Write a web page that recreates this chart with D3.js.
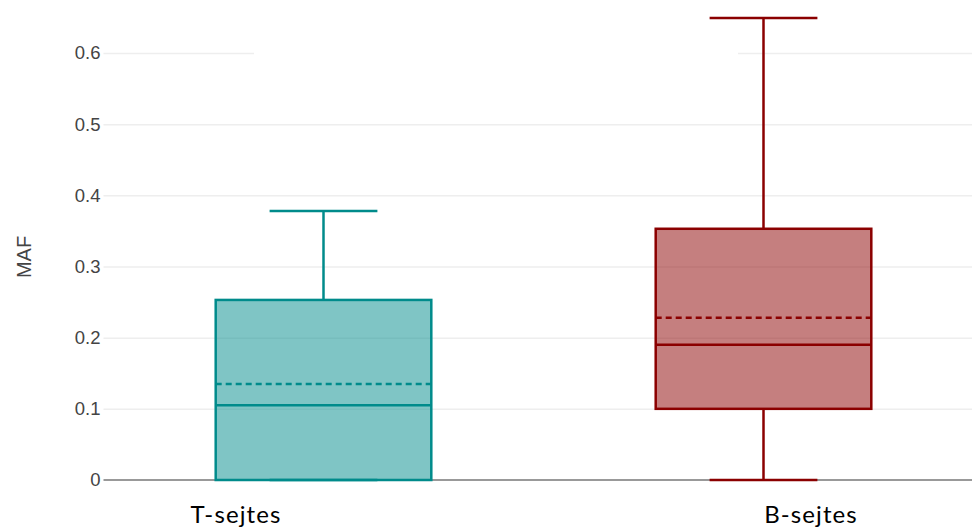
<!DOCTYPE html>
<html>
<head>
<meta charset="utf-8">
<script src="https://cdn.jsdelivr.net/npm/d3@7"></script>
<style>
  html, body { margin: 0; padding: 0; background: #fff; }
  svg { display: block; }
</style>
</head>
<body>
<svg id="chart" width="972" height="527"></svg>
<script>
// Box-plot statistics for mutant allele fraction per cell group
const categories = ["T-sejtes", "B-sejtes"];
const lowerWhisker = [0, 0];
const q1 = [0, 0.10];
const median = [0.105, 0.19];
const mean = [0.135, 0.228];
const q3 = [0.253, 0.353];
const upperWhisker = [0.378, 0.649];
const strokeColors = ["#008b8b", "#8b0000"];
const yTicks = [0, 0.1, 0.2, 0.3, 0.4, 0.5, 0.6];
const yTitle = "MAF";

const svg = d3.select("#chart");
const W = 972, H = 527;
const plotLeft = 103.5, plotRight = 983.5, plotBottom = 480;

const x = d3.scaleBand().domain(categories).range([plotLeft, plotRight]).padding(0);
const y = d3.scaleLinear().domain([0, 0.6]).range([plotBottom, plotBottom - 0.6 * 711.7]);

// Horizontal grid lines
const grid = svg.append("g")
  .attr("transform", `translate(${plotLeft},0)`)
  .call(d3.axisLeft(y).tickValues(yTicks.filter(t => t > 0)).tickSize(-(W - plotLeft)).tickFormat(""));
grid.select(".domain").remove();
grid.selectAll("line").attr("stroke", "#eeeeee").attr("stroke-width", 1.5);

// Blank panel that sits above the top grid line
svg.append("rect").attr("x", 254).attr("y", 40).attr("width", 484).attr("height", 26).attr("fill", "#fff");

// Y-axis tick labels
const yAxis = svg.append("g")
  .attr("transform", `translate(${plotLeft},0)`)
  .call(d3.axisLeft(y).tickValues(yTicks).tickSize(0).tickPadding(3).tickFormat(d => d === 0 ? "0" : d3.format(".1f")(d)));
yAxis.select(".domain").remove();
yAxis.selectAll("text")
  .attr("font-family", "'Liberation Sans', Arial, sans-serif")
  .attr("font-size", 18.5)
  .attr("fill", "#444");

// Zero line
svg.append("line")
  .attr("x1", plotLeft).attr("x2", W)
  .attr("y1", y(0)).attr("y2", y(0))
  .attr("stroke", "#999").attr("stroke-width", 2);

// Y-axis title
svg.append("text")
  .attr("transform", "translate(31,257) rotate(-90)")
  .attr("text-anchor", "middle")
  .attr("font-family", "'Liberation Sans', Arial, sans-serif")
  .attr("font-size", 20)
  .attr("fill", "#444")
  .text(yTitle);

// Boxes
const boxFrac = 0.49;
const sw = 2.5;
categories.forEach((c, i) => {
  const col = strokeColors[i];
  const cx = x(c) + x.bandwidth() / 2;
  const bw = x.bandwidth() * boxFrac;
  const g = svg.append("g");
  // whisker stems (outside the box only)
  [[q3[i], upperWhisker[i]], [q1[i], lowerWhisker[i]]].forEach(([a, b]) => {
    if (a === b) return;
    g.append("line").attr("x1", cx).attr("x2", cx)
      .attr("y1", y(a)).attr("y2", y(b))
      .attr("stroke", col).attr("stroke-width", sw);
  });
  // caps
  [upperWhisker[i], lowerWhisker[i]].forEach(v => {
    g.append("line").attr("x1", cx - bw / 4).attr("x2", cx + bw / 4)
      .attr("y1", y(v)).attr("y2", y(v))
      .attr("stroke", col).attr("stroke-width", sw);
  });
  // box
  g.append("rect")
    .attr("x", cx - bw / 2).attr("width", bw)
    .attr("y", y(q3[i])).attr("height", y(q1[i]) - y(q3[i]))
    .attr("fill", d3.color(col).copy({opacity: 0.5}))
    .attr("stroke", col).attr("stroke-width", sw);
  // median
  g.append("line").attr("x1", cx - bw / 2).attr("x2", cx + bw / 2)
    .attr("y1", y(median[i])).attr("y2", y(median[i]))
    .attr("stroke", col).attr("stroke-width", sw);
  // mean
  g.append("line").attr("x1", cx - bw / 2).attr("x2", cx + bw / 2)
    .attr("y1", y(mean[i])).attr("y2", y(mean[i]))
    .attr("stroke", col).attr("stroke-width", sw)
    .attr("stroke-dasharray", "6,4");
});

// Category labels
const labelX = [236, 811];
categories.forEach((c, i) => {
  svg.append("text")
    .attr("x", labelX[i]).attr("y", 523)
    .attr("text-anchor", "middle")
    .attr("font-family", "Lato, 'Open Sans', sans-serif")
    .attr("font-size", 24)
    .attr("letter-spacing", 1.1)
    .attr("fill", "#000")
    .text(c);
});
</script>
</body>
</html>
